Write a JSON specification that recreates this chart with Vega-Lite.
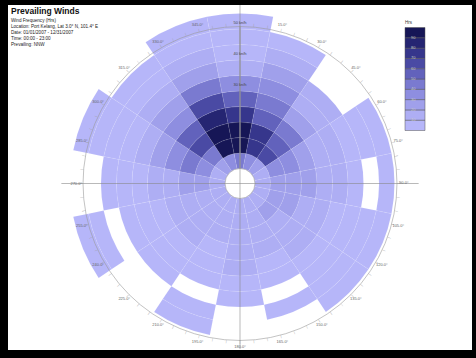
{
"$schema": "https://vega.github.io/schema/vega-lite/v6.json",
"width": 476, "height": 358,
"autosize": {"type": "fit", "contains": "padding"},
"padding": {"left": 8, "top": 4, "right": 4, "bottom": 8},
"background": "#000000",
"config": {"view": {"fill": "#ffffff", "stroke": null}, "font": "Liberation Sans"},
"title": {"text": "Prevailing Winds", "subtitle": ["Wind Frequency (Hrs)", "Location: Port Kelang, Lat 3.0° N, 101.4° E", "Date: 01/01/2007 - 12/31/2007", "Time: 00:00 - 23:00", "Prevailing: NNW"], "anchor": "start", "frame": "group", "offset": -42, "dx": 3, "fontSize": 8.5, "fontWeight": "bold", "color": "#111", "subtitleFontSize": 4.6, "subtitleLineHeight": 6, "subtitlePadding": 2.5, "subtitleColor": "#222"},
"datasets": {
"cells": [
{"d0":-11.25,"d1":11.25,"s0":0,"s1":5,"h":45},{"d0":-11.25,"d1":11.25,"s0":5,"s1":10,"h":95},{"d0":-11.25,"d1":11.25,"s0":10,"s1":15,"h":95},{"d0":-11.25,"d1":11.25,"s0":15,"s1":20,"h":75},{"d0":-11.25,"d1":11.25,"s0":20,"s1":25,"h":55},{"d0":-11.25,"d1":11.25,"s0":25,"s1":30,"h":35},{"d0":-11.25,"d1":11.25,"s0":30,"s1":35,"h":15},{"d0":-11.25,"d1":11.25,"s0":35,"s1":40,"h":5},{"d0":-11.25,"d1":11.25,"s0":40,"s1":45,"h":5},{"d0":-11.25,"d1":11.25,"s0":45,"s1":50,"h":5},
{"d0":11.25,"d1":33.75,"s0":0,"s1":5,"h":35},{"d0":11.25,"d1":33.75,"s0":5,"s1":10,"h":75},{"d0":11.25,"d1":33.75,"s0":10,"s1":15,"h":75},{"d0":11.25,"d1":33.75,"s0":15,"s1":20,"h":55},{"d0":11.25,"d1":33.75,"s0":20,"s1":25,"h":45},{"d0":11.25,"d1":33.75,"s0":25,"s1":30,"h":35},{"d0":11.25,"d1":33.75,"s0":30,"s1":35,"h":25},{"d0":11.25,"d1":33.75,"s0":35,"s1":40,"h":15},{"d0":11.25,"d1":33.75,"s0":40,"s1":45,"h":5},
{"d0":33.75,"d1":56.25,"s0":0,"s1":5,"h":25},{"d0":33.75,"d1":56.25,"s0":5,"s1":10,"h":65},{"d0":33.75,"d1":56.25,"s0":10,"s1":15,"h":55},{"d0":33.75,"d1":56.25,"s0":15,"s1":20,"h":45},{"d0":33.75,"d1":56.25,"s0":20,"s1":25,"h":25},{"d0":33.75,"d1":56.25,"s0":25,"s1":30,"h":15},{"d0":33.75,"d1":56.25,"s0":30,"s1":35,"h":15},
{"d0":56.25,"d1":78.75,"s0":0,"s1":5,"h":15},{"d0":56.25,"d1":78.75,"s0":5,"s1":10,"h":35},{"d0":56.25,"d1":78.75,"s0":10,"s1":15,"h":35},{"d0":56.25,"d1":78.75,"s0":15,"s1":20,"h":25},{"d0":56.25,"d1":78.75,"s0":20,"s1":25,"h":15},{"d0":56.25,"d1":78.75,"s0":25,"s1":30,"h":15},{"d0":56.25,"d1":78.75,"s0":30,"s1":35,"h":5},{"d0":56.25,"d1":78.75,"s0":35,"s1":40,"h":5},{"d0":56.25,"d1":78.75,"s0":40,"s1":45,"h":5},
{"d0":78.75,"d1":101.25,"s0":0,"s1":5,"h":15},{"d0":78.75,"d1":101.25,"s0":5,"s1":10,"h":25},{"d0":78.75,"d1":101.25,"s0":10,"s1":15,"h":25},{"d0":78.75,"d1":101.25,"s0":15,"s1":20,"h":25},{"d0":78.75,"d1":101.25,"s0":20,"s1":25,"h":15},{"d0":78.75,"d1":101.25,"s0":25,"s1":30,"h":15},{"d0":78.75,"d1":101.25,"s0":30,"s1":35,"h":5},{"d0":78.75,"d1":101.25,"s0":40,"s1":45,"h":5},
{"d0":101.25,"d1":123.75,"s0":0,"s1":5,"h":15},{"d0":101.25,"d1":123.75,"s0":5,"s1":10,"h":25},{"d0":101.25,"d1":123.75,"s0":10,"s1":15,"h":25},{"d0":101.25,"d1":123.75,"s0":15,"s1":20,"h":15},{"d0":101.25,"d1":123.75,"s0":20,"s1":25,"h":15},{"d0":101.25,"d1":123.75,"s0":25,"s1":30,"h":5},{"d0":101.25,"d1":123.75,"s0":30,"s1":35,"h":5},{"d0":101.25,"d1":123.75,"s0":35,"s1":40,"h":5},{"d0":101.25,"d1":123.75,"s0":40,"s1":45,"h":5},
{"d0":123.75,"d1":146.25,"s0":0,"s1":5,"h":15},{"d0":123.75,"d1":146.25,"s0":5,"s1":10,"h":25},{"d0":123.75,"d1":146.25,"s0":10,"s1":15,"h":15},{"d0":123.75,"d1":146.25,"s0":15,"s1":20,"h":15},{"d0":123.75,"d1":146.25,"s0":20,"s1":25,"h":15},{"d0":123.75,"d1":146.25,"s0":25,"s1":30,"h":5},{"d0":123.75,"d1":146.25,"s0":30,"s1":35,"h":5},{"d0":123.75,"d1":146.25,"s0":35,"s1":40,"h":5},{"d0":123.75,"d1":146.25,"s0":40,"s1":45,"h":5},
{"d0":146.25,"d1":168.75,"s0":0,"s1":5,"h":15},{"d0":146.25,"d1":168.75,"s0":5,"s1":10,"h":15},{"d0":146.25,"d1":168.75,"s0":10,"s1":15,"h":15},{"d0":146.25,"d1":168.75,"s0":15,"s1":20,"h":15},{"d0":146.25,"d1":168.75,"s0":20,"s1":25,"h":5},{"d0":146.25,"d1":168.75,"s0":25,"s1":30,"h":5},{"d0":146.25,"d1":168.75,"s0":35,"s1":40,"h":5},
{"d0":168.75,"d1":191.25,"s0":0,"s1":5,"h":15},{"d0":168.75,"d1":191.25,"s0":5,"s1":10,"h":15},{"d0":168.75,"d1":191.25,"s0":10,"s1":15,"h":15},{"d0":168.75,"d1":191.25,"s0":15,"s1":20,"h":15},{"d0":168.75,"d1":191.25,"s0":20,"s1":25,"h":15},{"d0":168.75,"d1":191.25,"s0":25,"s1":30,"h":5},{"d0":168.75,"d1":191.25,"s0":30,"s1":35,"h":5},
{"d0":191.25,"d1":213.75,"s0":0,"s1":5,"h":15},{"d0":191.25,"d1":213.75,"s0":5,"s1":10,"h":15},{"d0":191.25,"d1":213.75,"s0":10,"s1":15,"h":15},{"d0":191.25,"d1":213.75,"s0":15,"s1":20,"h":5},{"d0":191.25,"d1":213.75,"s0":20,"s1":25,"h":5},{"d0":191.25,"d1":213.75,"s0":25,"s1":30,"h":5},{"d0":191.25,"d1":213.75,"s0":35,"s1":40,"h":5},{"d0":191.25,"d1":213.75,"s0":40,"s1":45,"h":5},
{"d0":213.75,"d1":236.25,"s0":0,"s1":5,"h":15},{"d0":213.75,"d1":236.25,"s0":5,"s1":10,"h":15},{"d0":213.75,"d1":236.25,"s0":10,"s1":15,"h":15},{"d0":213.75,"d1":236.25,"s0":15,"s1":20,"h":15},{"d0":213.75,"d1":236.25,"s0":20,"s1":25,"h":5},{"d0":213.75,"d1":236.25,"s0":25,"s1":30,"h":5},{"d0":213.75,"d1":236.25,"s0":30,"s1":35,"h":5},
{"d0":236.25,"d1":258.75,"s0":0,"s1":5,"h":15},{"d0":236.25,"d1":258.75,"s0":5,"s1":10,"h":15},{"d0":236.25,"d1":258.75,"s0":10,"s1":15,"h":15},{"d0":236.25,"d1":258.75,"s0":15,"s1":20,"h":15},{"d0":236.25,"d1":258.75,"s0":20,"s1":25,"h":5},{"d0":236.25,"d1":258.75,"s0":25,"s1":30,"h":5},{"d0":236.25,"d1":258.75,"s0":30,"s1":35,"h":5},{"d0":236.25,"d1":258.75,"s0":40,"s1":45,"h":5},{"d0":236.25,"d1":258.75,"s0":45,"s1":50,"h":5},
{"d0":258.75,"d1":281.25,"s0":0,"s1":5,"h":15},{"d0":258.75,"d1":281.25,"s0":5,"s1":10,"h":25},{"d0":258.75,"d1":281.25,"s0":10,"s1":15,"h":25},{"d0":258.75,"d1":281.25,"s0":15,"s1":20,"h":15},{"d0":258.75,"d1":281.25,"s0":20,"s1":25,"h":15},{"d0":258.75,"d1":281.25,"s0":25,"s1":30,"h":5},{"d0":258.75,"d1":281.25,"s0":30,"s1":35,"h":5},{"d0":258.75,"d1":281.25,"s0":35,"s1":40,"h":5},
{"d0":281.25,"d1":303.75,"s0":0,"s1":5,"h":15},{"d0":281.25,"d1":303.75,"s0":5,"s1":10,"h":35},{"d0":281.25,"d1":303.75,"s0":10,"s1":15,"h":45},{"d0":281.25,"d1":303.75,"s0":15,"s1":20,"h":35},{"d0":281.25,"d1":303.75,"s0":20,"s1":25,"h":25},{"d0":281.25,"d1":303.75,"s0":25,"s1":30,"h":15},{"d0":281.25,"d1":303.75,"s0":30,"s1":35,"h":5},{"d0":281.25,"d1":303.75,"s0":35,"s1":40,"h":5},{"d0":281.25,"d1":303.75,"s0":40,"s1":45,"h":5},{"d0":281.25,"d1":303.75,"s0":45,"s1":50,"h":5},
{"d0":303.75,"d1":326.25,"s0":0,"s1":5,"h":25},{"d0":303.75,"d1":326.25,"s0":5,"s1":10,"h":45},{"d0":303.75,"d1":326.25,"s0":10,"s1":15,"h":65},{"d0":303.75,"d1":326.25,"s0":15,"s1":20,"h":55},{"d0":303.75,"d1":326.25,"s0":20,"s1":25,"h":35},{"d0":303.75,"d1":326.25,"s0":25,"s1":30,"h":25},{"d0":303.75,"d1":326.25,"s0":30,"s1":35,"h":15},{"d0":303.75,"d1":326.25,"s0":35,"s1":40,"h":5},{"d0":303.75,"d1":326.25,"s0":40,"s1":45,"h":5},
{"d0":326.25,"d1":348.75,"s0":0,"s1":5,"h":35},{"d0":326.25,"d1":348.75,"s0":5,"s1":10,"h":95},{"d0":326.25,"d1":348.75,"s0":10,"s1":15,"h":95},{"d0":326.25,"d1":348.75,"s0":15,"s1":20,"h":85},{"d0":326.25,"d1":348.75,"s0":20,"s1":25,"h":65},{"d0":326.25,"d1":348.75,"s0":25,"s1":30,"h":45},{"d0":326.25,"d1":348.75,"s0":30,"s1":35,"h":25},{"d0":326.25,"d1":348.75,"s0":35,"s1":40,"h":15},{"d0":326.25,"d1":348.75,"s0":40,"s1":45,"h":5},{"d0":326.25,"d1":348.75,"s0":45,"s1":50,"h":5}
],
"alabels": [{"t":15,"lab":"15.0°"},{"t":30,"lab":"30.0°"},{"t":45,"lab":"45.0°"},{"t":60,"lab":"60.0°"},{"t":75,"lab":"75.0°"},{"t":90,"lab":"90.0°"},{"t":105,"lab":"105.0°"},{"t":120,"lab":"120.0°"},{"t":135,"lab":"135.0°"},{"t":150,"lab":"150.0°"},{"t":165,"lab":"165.0°"},{"t":180,"lab":"180.0°"},{"t":195,"lab":"195.0°"},{"t":210,"lab":"210.0°"},{"t":225,"lab":"225.0°"},{"t":240,"lab":"240.0°"},{"t":255,"lab":"255.0°"},{"t":270,"lab":"270.0°"},{"t":285,"lab":"285.0°"},{"t":300,"lab":"300.0°"},{"t":315,"lab":"315.0°"},{"t":330,"lab":"330.0°"},{"t":345,"lab":"345.0°"}],
"ticks": [{"t":0},{"t":5},{"t":10},{"t":15},{"t":20},{"t":25},{"t":30},{"t":35},{"t":40},{"t":45},{"t":50},{"t":55},{"t":60},{"t":65},{"t":70},{"t":75},{"t":80},{"t":85},{"t":90},{"t":95},{"t":100},{"t":105},{"t":110},{"t":115},{"t":120},{"t":125},{"t":130},{"t":135},{"t":140},{"t":145},{"t":150},{"t":155},{"t":160},{"t":165},{"t":170},{"t":175},{"t":180},{"t":185},{"t":190},{"t":195},{"t":200},{"t":205},{"t":210},{"t":215},{"t":220},{"t":225},{"t":230},{"t":235},{"t":240},{"t":245},{"t":250},{"t":255},{"t":260},{"t":265},{"t":270},{"t":275},{"t":280},{"t":285},{"t":290},{"t":295},{"t":300},{"t":305},{"t":310},{"t":315},{"t":320},{"t":325},{"t":330},{"t":335},{"t":340},{"t":345},{"t":350},{"t":355}],
"rlabels": [{"s":27,"lab":"30 kn/h"},{"s":37,"lab":"40 kn/h"},{"s":47,"lab":"50 kn/h"}]
},
"layer": [
{
"data": {"name": "cells"},
"mark": {"type": "arc", "yOffset": 6, "stroke": "#ffffff", "strokeOpacity": 0.15, "strokeWidth": 0.5},
"encoding": {
"theta": {"field": "d0", "type": "quantitative", "stack": null, "scale": {"type": "linear", "domain": [0, 360], "range": [0, 6.283185]}},
"theta2": {"field": "d1"},
"radius": {"field": "s0", "type": "quantitative", "scale": {"type": "linear", "domain": [0, 50], "range": [15, 170], "zero": false}},
"radius2": {"field": "s1"},
"color": {"field": "h", "type": "quantitative", "title": "Hrs",
"scale": {"type": "quantize", "domain": [0, 100], "range": ["#b6b6f9", "#aeaef4", "#a0a0eb", "#8e8ee0", "#7a7ad0", "#6262bc", "#4a4aa4", "#36368c", "#252572", "#161656"]},
"legend": {"type": "gradient", "orient": "none", "legendX": 397, "legendY": 15, "direction": "vertical", "gradientLength": 103, "gradientThickness": 20, "gradientStrokeColor": "#555", "gradientStrokeWidth": 0.5, "labelFontSize": 4, "labelOffset": -14, "labelColor": "#c8c8c8", "labelOverlap": false, "titleFontSize": 4.5, "titleFontWeight": "normal", "titleColor": "#333", "titlePadding": 3, "format": "d"}}
}
},
{
"data": {"values": [{}]},
"mark": {"type": "arc", "yOffset": 6, "fill": null, "filled": false, "stroke": "#9a9a9a", "strokeWidth": 0.6},
"encoding": {
"theta": {"datum": 0, "type": "quantitative", "stack": null, "scale": {"type": "linear", "domain": [0, 360], "range": [0, 6.283185]}},
"theta2": {"datum": 360},
"radius": {"datum": 45.8, "type": "quantitative", "scale": {"type": "linear", "domain": [0, 50], "range": [15, 170], "zero": false}}
}
},
{
"data": {"name": "ticks"},
"mark": {"type": "text", "yOffset": 6, "text": "|", "fontSize": 3.5, "color": "#9a9a9a", "baseline": "middle", "align": "center"},
"encoding": {
"theta": {"field": "t", "type": "quantitative", "scale": {"type": "linear", "domain": [0, 360], "range": [0, 6.283185]}},
"radius": {"datum": 46.4, "type": "quantitative", "scale": {"type": "linear", "domain": [0, 50], "range": [15, 170], "zero": false}},
"angle": {"field": "t", "type": "quantitative", "scale": {"domain": [0, 360], "range": [0, 360]}}
}
},
{
"data": {"values": [{"a": -0.77, "b": 0.77, "z": 0}]},
"mark": {"type": "rule", "yOffset": 6, "color": "#8a8a8a", "strokeWidth": 0.6},
"encoding": {
"x": {"field": "a", "type": "quantitative", "scale": {"domain": [-1, 1]}, "axis": null},
"x2": {"field": "b"},
"y": {"field": "z", "type": "quantitative", "scale": {"domain": [-1, 1]}, "axis": null}
}
},
{
"data": {"values": [{"a": -0.96, "b": 1.0, "z": 0}]},
"mark": {"type": "rule", "yOffset": 6, "color": "#8a8a8a", "strokeWidth": 0.6},
"encoding": {
"y": {"field": "a", "type": "quantitative", "scale": {"domain": [-1, 1]}, "axis": null},
"y2": {"field": "b"},
"x": {"field": "z", "type": "quantitative", "scale": {"domain": [-1, 1]}, "axis": null}
}
},
{
"data": {"name": "alabels"},
"mark": {"type": "text", "yOffset": 6, "fontSize": 4, "color": "#666666", "baseline": "middle", "align": "center"},
"encoding": {
"theta": {"field": "t", "type": "quantitative", "scale": {"type": "linear", "domain": [0, 360], "range": [0, 6.283185]}},
"radius": {"datum": 48.0, "type": "quantitative", "scale": {"type": "linear", "domain": [0, 50], "range": [15, 170], "zero": false}},
"text": {"field": "lab", "type": "nominal"}
}
},
{
"data": {"name": "rlabels"},
"mark": {"type": "text", "yOffset": 6, "fontSize": 4, "color": "#444444", "baseline": "middle", "align": "center"},
"encoding": {
"theta": {"datum": 0, "type": "quantitative", "scale": {"type": "linear", "domain": [0, 360], "range": [0, 6.283185]}},
"radius": {"field": "s", "type": "quantitative", "scale": {"type": "linear", "domain": [0, 50], "range": [15, 170], "zero": false}},
"text": {"field": "lab", "type": "nominal"}
}
}
]
}
